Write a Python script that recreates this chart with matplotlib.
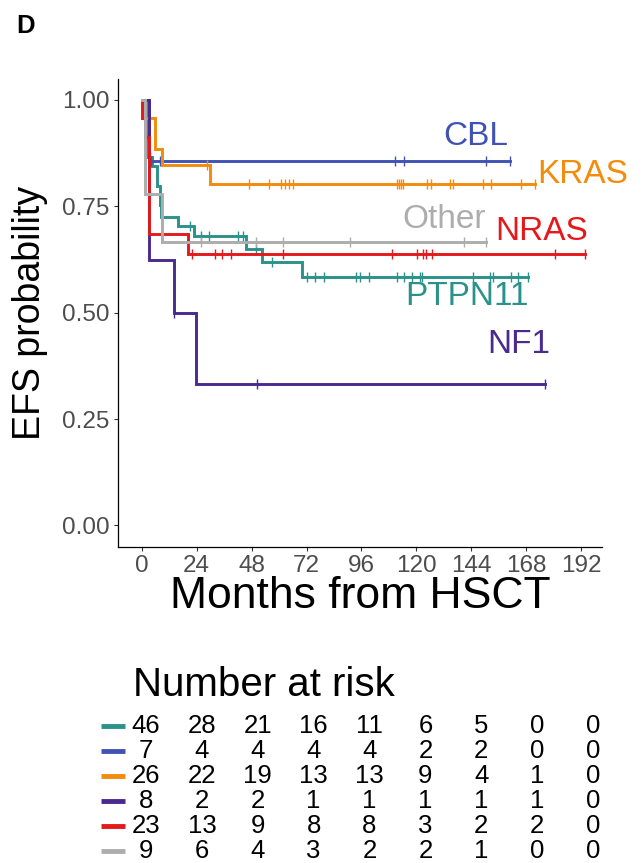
import numpy as np
import matplotlib
matplotlib.use("Agg")
import matplotlib.pyplot as plt

plt.rcParams['font.family'] = ['Liberation Sans', 'DejaVu Sans']

# groups in risk-table order
groups = ['PTPN11', 'CBL', 'KRAS', 'NF1', 'NRAS', 'Other']
colors = {'PTPN11': '#2A918B', 'CBL': '#4152B5', 'KRAS': '#F28C0A',
          'NF1': '#4B2A8E', 'NRAS': '#E4191C', 'Other': '#ADADAD'}

# step times (months) and EFS level after each step
ptpn11_t = [2.0, 4.4, 6.6, 8.0, 8.5, 15.7, 22.6, 45.5, 52.7, 70.2]
ptpn11_s = [0.867, 0.844, 0.797, 0.754, 0.726, 0.703, 0.680, 0.650, 0.620, 0.584]
ptpn11_c = [3.6, 21.1, 25.8, 29.4, 42, 44.4, 49.8, 57.1, 72.1, 75.8, 79.7, 93.7, 95.4,
            99.1, 111.5, 114.4, 118, 121.7, 122.4, 144.7, 152, 153.4, 161.4, 164.6, 168.6]

cbl_t = [3.0]
cbl_s = [0.857]
cbl_c = [4.0, 8.0, 110.7, 114.4, 150.5, 161.0]

kras_t = [0.5, 5.8, 9.0, 29.9]
kras_s = [0.957, 0.885, 0.846, 0.802]
kras_c = [28.4, 47, 55.4, 60.8, 62.7, 64.4, 66.3, 111.5, 112.3, 113.2, 114.1, 124.6,
          126.5, 134.8, 136, 149.3, 152.7, 165.7, 172]

nf1_t = [3.3, 14.1, 23.7]
nf1_s = [0.625, 0.5, 0.333]
nf1_c = [14.1, 50.3, 176.3]

nras_t = [0.3, 1.5, 3.0, 20.1]
nras_s = [0.957, 0.913, 0.685, 0.638]
nras_c = [2.0, 21.9, 32, 35.2, 39, 61.9, 109.3, 120.2, 123.1, 124, 126.8, 180.8, 193.9]

other_t = [1.4, 9.0]
other_s = [0.778, 0.667]
other_c = [25.8, 49.8, 61.5, 91, 141, 150.5]

curves = {'PTPN11': (ptpn11_t, ptpn11_s, ptpn11_c),
          'CBL': (cbl_t, cbl_s, cbl_c),
          'KRAS': (kras_t, kras_s, kras_c),
          'NF1': (nf1_t, nf1_s, nf1_c),
          'NRAS': (nras_t, nras_s, nras_c),
          'Other': (other_t, other_s, other_c)}

# curve end labels: (x, y) in data units
label_pos = {'CBL': (131.7, 0.913), 'KRAS': (172.8, 0.824), 'Other': (113.8, 0.718),
             'NRAS': (154.5, 0.690), 'PTPN11': (115.0, 0.538), 'NF1': (151.0, 0.426)}

risk_times = [0, 24, 48, 72, 96, 120, 144, 168, 192]
risk = {'PTPN11': [46, 28, 21, 16, 11, 6, 5, 0, 0],
        'CBL': [7, 4, 4, 4, 4, 2, 2, 0, 0],
        'KRAS': [26, 22, 19, 13, 13, 9, 4, 1, 0],
        'NF1': [8, 2, 2, 1, 1, 1, 1, 1, 0],
        'NRAS': [23, 13, 9, 8, 8, 3, 2, 2, 0],
        'Other': [9, 6, 4, 3, 2, 2, 1, 0, 0]}

W, H = 642, 863
fig = plt.figure(figsize=(W / 100, H / 100), dpi=100)

# main KM panel
ax = fig.add_axes([118 / W, 1 - 546.7 / H, (601.7 - 118) / W, (546.7 - 78.7) / H])
for g in groups:
    t, s, c = curves[g]
    end = max(c + t)
    xs = [0] + t + [end]
    ys = [1.0] + s + [s[-1]]
    ax.step(xs, ys, where='post', color=colors[g], lw=2.1, solid_joinstyle='miter')
    # censor marks sit on the curve
    cy = [ys[np.searchsorted(xs, ci, side='right') - 1] for ci in c]
    ax.plot(c, cy, ls='none', marker='|', ms=7, mew=1.0, color=colors[g])
    lx, ly = label_pos[g]
    ax.text(lx, ly, g, color=colors[g], fontsize=24, ha='left', va='center')

ax.set_xlim(-10.4, 201)
ax.set_ylim(-0.05, 1.05)
ax.set_xticks(risk_times)
ax.set_yticks([0, 0.25, 0.5, 0.75, 1.0])
ax.set_yticklabels(['0.00', '0.25', '0.50', '0.75', '1.00'])
ax.spines['top'].set_visible(False)
ax.spines['right'].set_visible(False)
for sp in ('left', 'bottom'):
    ax.spines[sp].set_linewidth(0.9)
ax.tick_params(length=3, width=0.8, color='#333333', labelsize=17.5,
               labelcolor='#4D4D4D', pad=3)

fig.text(30 / W, 1 - 312.7 / H, 'EFS probability', rotation=90, ha='center',
         va='center', fontsize=27)
fig.text(360 / W, 1 - 608 / H, 'Months from HSCT', ha='center', va='baseline',
         fontsize=32)
fig.text(16 / W, 1 - 33 / H, 'D', ha='left', va='baseline', fontsize=18.5,
         fontweight='bold')

# number at risk table
fig.text(133 / W, 1 - 685 / H, 'Number at risk', ha='left', va='center', fontsize=29)
ax2 = fig.add_axes([118 / W, 1 - 863.0 / H, (601.7 - 118) / W, 150.0 / H])
ax2.set_xlim(-12.03, 195.7)
ax2.set_ylim(5.5, -0.5)
ax2.axis('off')
for i, g in enumerate(groups):
    ax2.plot([-19.3, -9.0], [i, i], color=colors[g], lw=3.5, clip_on=False,
             solid_capstyle='butt')
    for tx, n in zip(risk_times, risk[g]):
        ax2.text(tx, i, str(n), ha='center', va='center', fontsize=18.5)

fig.savefig('out.png', dpi=100)
